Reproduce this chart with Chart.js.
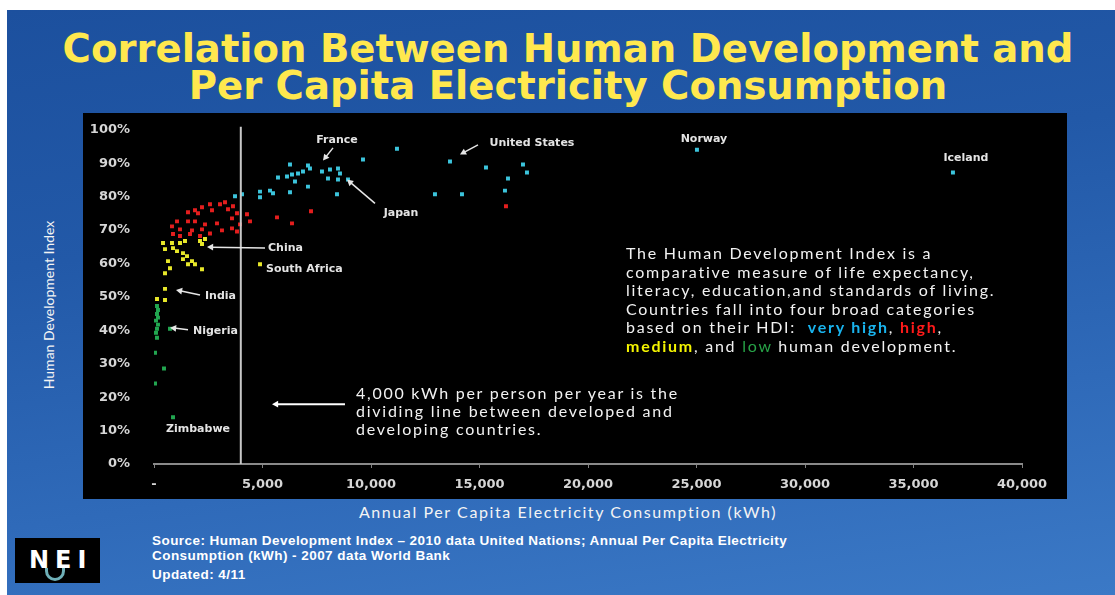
<!DOCTYPE html>
<html>
<head>
<meta charset="utf-8">
<script src="https://cdn.jsdelivr.net/npm/chart.js@4.4.1/dist/chart.umd.min.js"></script>
<style>
  html, body { margin: 0; padding: 0; background: #fff; }
  #slide {
    position: absolute; left: 7px; top: 10px; width: 1108px; height: 585px; overflow: hidden;
    background: linear-gradient(172deg, #1c509e 0%, #2259a8 35%, #2f6ab9 70%, #3b79c6 100%);
    font-family: "DejaVu Sans", sans-serif;
  }
  .title {
    position: absolute; left: 0; width: 1122px; text-align: center;
    color: #ffe84e; font-weight: bold; font-size: 38.6px; white-space: nowrap;
  }
  #chartBox { position: absolute; left: 76px; top: 103px; width: 984px; height: 386px; background: #000; overflow: hidden; }
  #chartBox canvas { position: absolute; left: 0; top: -7px; }
  .note { position: absolute; color: #f2f2f2; font-family: Lato, sans-serif; font-size: 16px; white-space: nowrap; letter-spacing: 1.75px; }
  .yTitle {
    position: absolute; left: 41px; top: 295px; color: #f4f4f4; font-family: Lato, sans-serif; font-size: 14px;
    transform: translate(-50%, -50%) rotate(-90deg); white-space: nowrap;
  }
  .xTitle { position: absolute; left: 0; width: 1122px; top: 492px; text-align: center; color: #f4f4f4; font-family: Lato, sans-serif; font-size: 16px; letter-spacing: 1.6px; }
  .source { position: absolute; left: 145px; color: #fff; font-family: "Liberation Sans", sans-serif; font-weight: bold; font-size: 13.5px; white-space: nowrap; letter-spacing: 0.45px; }
  #logo { position: absolute; left: 8px; top: 528px; width: 85px; height: 45px; background: #000; overflow: hidden; }
  #logo span { position: absolute; left: 14px; top: 8px; color: #fff; font-family: "DejaVu Sans", sans-serif; font-weight: bold; font-size: 24px; letter-spacing: 6px; }
  #logo i { position: absolute; left: 30px; top: 30px; width: 14px; height: 10px; border-radius: 0 0 10px 10px; border: 3px solid #6fb0b8; border-top: none; }
</style>
</head>
<body>
<div id="slide">
  <div class="title" style="top: 16px;">Correlation Between Human Development and</div>
  <div class="title" style="top: 53px;">Per Capita Electricity Consumption</div>

  <div id="chartBox">
    <canvas id="hdiChart" width="984" height="393"></canvas>
    <div class="note" style="left: 543px; top: 131px; line-height: 18.5px;">
      The Human Development Index is a<br>
      comparative measure of life expectancy,<br>
      literacy, education,and standards of living.<br>
      Countries fall into four broad categories<br>
      based on their HDI: &nbsp;<b style="color:#19b4ee">very high</b>, <b style="color:#ff1a1a">high</b>,<br>
      <b style="color:#f4f400">medium</b>, and <span style="color:#27a347">low</span> human development.
    </div>
    <div class="note" style="left: 273px; top: 271px; line-height: 18px;">
      4,000 kWh per person per year is the<br>
      dividing line between developed and<br>
      developing countries.
    </div>
  </div>

  <div class="yTitle">Human Development Index</div>
  <div class="xTitle">Annual Per Capita Electricity Consumption (kWh)</div>

  <div id="logo"><span>NEI</span><i></i></div>
  <div class="source" style="top: 523px;">Source: Human Development Index &ndash; 2010 data United Nations; Annual Per Capita Electricity</div>
  <div class="source" style="top: 538px;">Consumption (kWh) - 2007 data World Bank</div>
  <div class="source" style="top: 557px;">Updated: 4/11</div>
</div>

<script>
// kWh per person per year, HDI in percent
const veryHighKwh = [3733, 4055, 4885, 4885, 5345, 5484, 5714, 6129, 6267, 6267, 6359, 6497, 6636, 6866, 7096, 7096, 7188, 7741, 8110, 8479, 8571, 8018, 8479, 8940, 8433, 9631, 11197, 13640, 15299, 17004, 17188, 16313, 16174, 12948, 14193, 25021, 36818];
const veryHighHdi = [80.1, 80.7, 81.5, 79.8, 81.8, 81.0, 85.7, 86.0, 89.6, 81.3, 86.6, 84.5, 86.9, 87.5, 89.3, 83.0, 88.4, 87.5, 88.1, 88.4, 86.9, 85.4, 85.1, 85.1, 80.7, 91.1, 94.3, 90.5, 88.7, 89.6, 87.2, 85.4, 81.8, 80.7, 80.7, 94.0, 87.2];

const highKwh = [3272, 3041, 2580, 2212, 1889, 1567, 2028, 2673, 3410, 3640, 3825, 3594, 4285, 4424, 3963, 3594, 3825, 3133, 2580, 2212, 2350, 1889, 1567, 1060, 829, 1198, 1751, 876, 1198, 2120, 1659, 2903, 5668, 6359, 7235, 16220];
const highHdi = [78.3, 77.7, 77.7, 76.8, 75.9, 75.3, 75.0, 75.9, 76.2, 77.1, 75.0, 73.5, 74.7, 72.6, 71.7, 70.5, 69.6, 69.9, 69.0, 70.2, 71.7, 72.6, 72.6, 72.6, 71.1, 70.2, 69.9, 68.8, 68.2, 68.2, 68.8, 72.0, 73.8, 72.0, 75.6, 77.1];

const mediumKwh = [415, 829, 1198, 507, 876, 1060, 1428, 2212, 2350, 2120, 1336, 1521, 1751, 1336, 1567, 645, 737, 507, 2212, 1889, 4885, 507, 138, 507];
const mediumHdi = [66.1, 66.1, 66.1, 64.3, 64.6, 63.7, 66.7, 65.8, 67.3, 66.7, 63.1, 62.2, 60.7, 61.3, 59.8, 60.7, 58.6, 57.1, 58.3, 59.8, 59.8, 52.4, 49.4, 49.1];

const lowKwh = [138, 184, 138, 184, 92, 184, 138, 92, 138, 737, 46, 461, 46, 876];
const lowHdi = [47.3, 46.1, 44.9, 43.8, 42.9, 41.7, 40.5, 39.3, 37.8, 40.5, 33.3, 28.6, 24.1, 14.0];

const xTicks = [0, 5000, 10000, 15000, 20000, 25000, 30000, 35000, 40000];
const yTicks = [0, 10, 20, 30, 40, 50, 60, 70, 80, 90, 100];

const dividingKwh = 4000;

// country callouts: text anchor and optional arrow (from -> to), all in data units
const callouts = [
  { text: "France", x: 8433, y: 97.0, align: "center", arrow: [8249, 94.6, 7788, 90.8] },
  { text: "Japan", x: 11382, y: 75.0, align: "center", arrow: [10184, 78.0, 8893, 85.1] },
  { text: "United States", x: 17418, y: 96.1, align: "center", arrow: [14930, 95.5, 14100, 92.6] },
  { text: "Norway", x: 25344, y: 97.3, align: "center" },
  { text: "Iceland", x: 37417, y: 91.4, align: "center" },
  { text: "China", x: 5253, y: 64.6, align: "left", arrow: [5115, 64.6, 2442, 64.9] },
  { text: "South Africa", x: 5161, y: 58.3, align: "left" },
  { text: "India", x: 2350, y: 50.3, align: "left", arrow: [2120, 50.6, 1014, 52.1] },
  { text: "Nigeria", x: 1797, y: 39.9, align: "left", arrow: [1567, 40.2, 737, 40.8] },
  { text: "Zimbabwe", x: 553, y: 10.4, align: "left" }
];
const noteArrow = [8801, 17.9, 5437, 17.9];

function pairs(xs, ys) {
  return xs.map((x, i) => ({ x: x, y: ys[i] }));
}

function drawArrow(ctx, x1, y1, x2, y2) {
  const ang = Math.atan2(y2 - y1, x2 - x1);
  ctx.beginPath();
  ctx.moveTo(x1, y1);
  ctx.lineTo(x2 - 4 * Math.cos(ang), y2 - 4 * Math.sin(ang));
  ctx.stroke();
  ctx.beginPath();
  ctx.moveTo(x2, y2);
  ctx.lineTo(x2 - 7 * Math.cos(ang - 0.5), y2 - 7 * Math.sin(ang - 0.5));
  ctx.lineTo(x2 - 7 * Math.cos(ang + 0.5), y2 - 7 * Math.sin(ang + 0.5));
  ctx.closePath();
  ctx.fill();
}

const notesPlugin = {
  id: "notes",
  afterDatasetsDraw(chart) {
    const ctx = chart.ctx;
    const xs = chart.scales.x, ys = chart.scales.y;
    ctx.save();

    // dividing line
    const lx = xs.getPixelForValue(dividingKwh);
    ctx.strokeStyle = "#c8c8c8";
    ctx.lineWidth = 2;
    ctx.beginPath();
    ctx.moveTo(lx, ys.getPixelForValue(100.9));
    ctx.lineTo(lx, ys.getPixelForValue(0));
    ctx.stroke();

    ctx.strokeStyle = "#e6e6e6";
    ctx.fillStyle = "#e6e6e6";
    ctx.lineWidth = 1.5;
    callouts.forEach(c => {
      if (c.arrow) {
        const a = c.arrow;
        drawArrow(ctx, xs.getPixelForValue(a[0]), ys.getPixelForValue(a[1]),
          xs.getPixelForValue(a[2]), ys.getPixelForValue(a[3]));
      }
    });
    ctx.lineWidth = 2;
    ctx.strokeStyle = "#fff";
    ctx.fillStyle = "#fff";
    drawArrow(ctx, xs.getPixelForValue(noteArrow[0]), ys.getPixelForValue(noteArrow[1]),
      xs.getPixelForValue(noteArrow[2]), ys.getPixelForValue(noteArrow[3]));

    ctx.font = "bold 11px 'DejaVu Sans'";
    ctx.fillStyle = "#e4e4e4";
    ctx.textBaseline = "middle";
    callouts.forEach(c => {
      ctx.textAlign = c.align;
      ctx.fillText(c.text, xs.getPixelForValue(c.x), ys.getPixelForValue(c.y));
    });
    ctx.restore();
  }
};

const pointStyle = { pointStyle: "rect", pointRadius: 2.8, borderWidth: 0, pointHoverRadius: 2.8 };

new Chart(document.getElementById("hdiChart"), {
  type: "scatter",
  data: {
    datasets: [
      Object.assign({ label: "very high", data: pairs(veryHighKwh, veryHighHdi), backgroundColor: "#3cc4dc" }, pointStyle),
      Object.assign({ label: "high", data: pairs(highKwh, highHdi), backgroundColor: "#e41e1e" }, pointStyle),
      Object.assign({ label: "medium", data: pairs(mediumKwh, mediumHdi), backgroundColor: "#e8e82a" }, pointStyle),
      Object.assign({ label: "low", data: pairs(lowKwh, lowHdi), backgroundColor: "#22a650" }, pointStyle)
    ]
  },
  options: {
    responsive: false,
    animation: false,
    devicePixelRatio: 1,
    layout: { padding: { top: 8, right: 45, left: 0, bottom: 0 } },
    plugins: { legend: { display: false }, tooltip: { enabled: false } },
    scales: {
      x: {
        type: "linear",
        min: 0,
        max: 40000,
        afterBuildTicks: s => { s.ticks = xTicks.map(v => ({ value: v })); },
        afterFit: s => { s.height = 35; },
        ticks: {
          color: "#d6d6d6",
          font: { family: "DejaVu Sans", weight: "bold", size: 13 },
          padding: 9,
          maxRotation: 0,
          callback: v => v === 0 ? "-" : v.toLocaleString("en-US")
        },
        grid: { drawOnChartArea: false, color: "#808080", tickLength: 4 },
        border: { color: "#8a8a8a", width: 2 }
      },
      y: {
        min: 0,
        max: 100,
        afterBuildTicks: s => { s.ticks = yTicks.map(v => ({ value: v })); },
        afterFit: s => { s.width = 71; },
        ticks: {
          color: "#d6d6d6",
          font: { family: "DejaVu Sans", weight: "bold", size: 13 },
          padding: 16,
          callback: v => v + "%"
        },
        grid: { display: false },
        border: { display: false }
      }
    }
  },
  plugins: [notesPlugin]
});
</script>
</body>
</html>
